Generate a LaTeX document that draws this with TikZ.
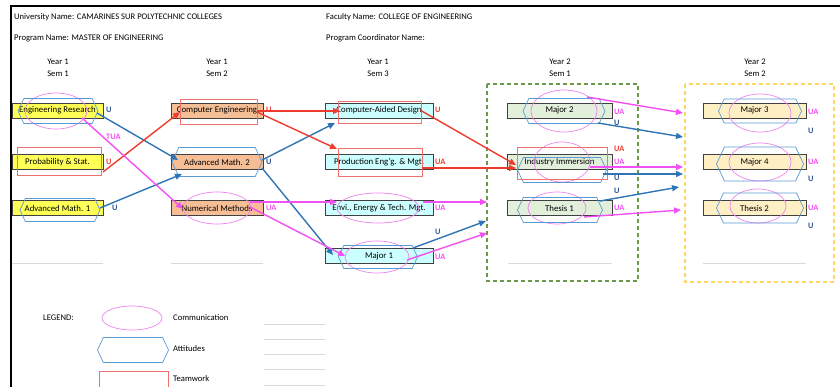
\documentclass[tikz,border=0pt]{standalone}
\usepackage{fontspec}
\setmainfont{Carlito}
\usetikzlibrary{arrows.meta,shapes.symbols}

\definecolor{yelbox}{HTML}{FFFF55}
\definecolor{orabox}{HTML}{F6BE95}
\definecolor{cyabox}{HTML}{CCFFFF}
\definecolor{grebox}{HTML}{E2EFDA}
\definecolor{peabox}{HTML}{FFEFC5}
\definecolor{commcol}{HTML}{EE82EE}
\definecolor{attcol}{HTML}{5B9BD5}
\definecolor{teamcol}{HTML}{F07070}
\definecolor{arrred}{HTML}{EE3B2E}
\definecolor{arrblue}{HTML}{2E75B6}
\definecolor{arrpink}{HTML}{F350F3}
\definecolor{navy}{HTML}{2F5597}
\definecolor{frmgreen}{HTML}{6A9A47}
\definecolor{frmyellow}{HTML}{FFD660}

\begin{document}
\begin{tikzpicture}[x=1pt,y=-1pt,
    font=\fontsize{8.6}{10}\selectfont,
    course/.style={draw=black!75, line width=0.8pt, minimum height=15pt, inner sep=0pt, font=\fontsize{8.8}{10}\selectfont},
    comm/.style={draw=commcol, line width=0.7pt},
    hexa/.style={draw=attcol, line width=0.7pt, shape=signal, signal to=west and east, signal pointer angle=130, inner sep=0pt},
    team/.style={draw=teamcol, line width=0.7pt},
    lab/.style={anchor=west, inner sep=0pt, font=\fontsize{8.3}{9}\bfseries},
    txt/.style={anchor=west, inner sep=0pt},
    blu/.style={arrblue, line width=1.4pt, -{Triangle[length=7pt,width=6pt]}},
    rd/.style={arrred, line width=1.4pt, -{Triangle[length=7pt,width=6pt]}},
    pnk/.style={arrpink, line width=1.4pt, -{Triangle[length=7pt,width=6pt]}},
    rule/.style={black!15, line width=0.8pt}]
        \useasboundingbox (0,0) rectangle (840,387);
        \draw[line width=2pt] (11,387) -- (11,6) -- (840,6);

        % header
        \node[txt] (uni) at (14,17) {University Name: CAMARINES SUR POLYTECHNIC COLLEGES};
        \node[txt] (prog) at (14,38) {Program Name: MASTER OF ENGINEERING};
        \node[txt] (fac) at (326,17) {Faculty Name: COLLEGE OF ENGINEERING};
        \node[txt] (coord) at (326,38) {Program Coordinator Name:};

        \node (y11) at (58,62) {Year 1};   \node (s11) at (58,74) {Sem 1};
        \node (y12) at (217,62) {Year 1};  \node (s12) at (217,74) {Sem 2};
        \node (y13) at (378,62) {Year 1};  \node (s13) at (378,74) {Sem 3};
        \node (y21) at (560,62) {Year 2};  \node (s21) at (560,74) {Sem 1};
        \node (y22) at (755,62) {Year 2};  \node (s22) at (755,74) {Sem 2};

        % year 2 frames
        \draw[frmgreen, line width=1.3pt, dash pattern=on 4pt off 3pt] (487,84) rectangle (638,281);
        \draw[frmyellow, line width=1.3pt, dash pattern=on 4pt off 3pt] (685,84) rectangle (834,282);

        % empty rows
        \draw[rule] (12,263) -- (103,263);
        \draw[rule] (171,263) -- (263,263);
        \draw[rule] (508,263) -- (612,263);
        \draw[rule] (703,263) -- (806,263);

        % courses
        \node[course, fill=yelbox, minimum width=91pt] (er) at (57.5,110.5) {Engineering Research};
        \node[course, fill=yelbox, minimum width=91pt] (ps) at (57.5,162) {Probability \& Stat.};
        \node[course, fill=yelbox, minimum width=91pt] (am1) at (57.5,208) {Advanced Math. 1};

        \node[course, fill=orabox, minimum width=92pt] (ce) at (217,110.5) {Computer Engineering};
        \node[course, fill=orabox, minimum width=92pt] (am2) at (217,162) {Advanced Math. 2};
        \node[course, fill=orabox, minimum width=92pt] (nm) at (217,208) {Numerical Methods};

        \node[course, fill=cyabox, minimum width=108pt] (cad) at (379,110.5) {Computer-Aided Design};
        \node[course, fill=cyabox, minimum width=108pt] (pem) at (379,162) {Production Eng'g. \& Mgt.};
        \node[course, fill=cyabox, minimum width=108pt] (eet) at (379,208) {Envi., Energy \& Tech. Mgt.};
        \node[course, fill=cyabox, minimum width=108pt] (mj1) at (379,256) {Major 1};

        \node[course, fill=grebox, minimum width=105pt] (mj2) at (559.5,110.5) {Major 2};
        \node[course, fill=grebox, minimum width=105pt] (ii) at (559.5,162) {Industry Immersion};
        \node[course, fill=grebox, minimum width=105pt] (th1) at (559.5,208) {Thesis 1};

        \node[course, fill=peabox, minimum width=103pt] (mj3) at (754.5,110.5) {Major 3};
        \node[course, fill=peabox, minimum width=103pt] (mj4) at (754.5,162) {Major 4};
        \node[course, fill=peabox, minimum width=103pt] (th2) at (754.5,208) {Thesis 2};

        % communication
        \draw[comm] (56,111) ellipse (31 and 18);
        \draw[comm] (217,208) ellipse (34 and 16);
        \draw[comm] (378,208) ellipse (41 and 15);
        \draw[comm] (377,257) ellipse (32 and 16);
        \draw[comm] (564,111) ellipse (33 and 21);
        \draw[comm] (562,162) ellipse (28 and 20);
        \draw[comm] (557,208) ellipse (29 and 16);
        \draw[comm] (760,113) ellipse (31 and 19);
        \draw[comm] (760,162) ellipse (31 and 19);
        \draw[comm] (758,206) ellipse (28 and 17);

        % attitudes
        \node[hexa, minimum width=80pt, minimum height=25pt] (er-h) at (58,111) {};
        \node[hexa, minimum width=80pt, minimum height=23pt] (am1-h) at (60,210) {};
        \node[hexa, minimum width=90pt, minimum height=29pt] (am2-h) at (217,162) {};
        \node[hexa, minimum width=79pt, minimum height=23pt] (mj1-h) at (378,257) {};
        \node[hexa, minimum width=82pt, minimum height=25pt] (mj2-h) at (564,111) {};
        \node[hexa, minimum width=89pt, minimum height=25pt] (ii-h) at (562,170) {};
        \node[hexa, minimum width=85pt, minimum height=25pt] (th1-h) at (560,210) {};
        \node[hexa, minimum width=83pt, minimum height=24pt] (mj3-h) at (760,111) {};
        \node[hexa, minimum width=87pt, minimum height=34pt] (mj4-h) at (760,164) {};
        \node[hexa, minimum width=87pt, minimum height=30pt] (th2-h) at (760,208) {};

        % teamwork
        \draw[team] (17,147) rectangle (101,175);
        \draw[team] (180,99) rectangle (257,124);
        \draw[team] (338,101) rectangle (421,123);
        \draw[team] (338,148) rectangle (422,176);
        \draw[team] (517,147) rectangle (607,179);

        % arrow ends
        \coordinate (b1a) at (97,113);   \coordinate (b1b) at (178,160);
        \coordinate (b2a) at (100,208);  \coordinate (b2b) at (182,174);
        \coordinate (b3a) at (262,160);  \coordinate (b3b) at (335,123);
        \coordinate (b4a) at (262,168);  \coordinate (b4b) at (333,255);
        \coordinate (b5a) at (413,248);  \coordinate (b5b) at (486,221);
        \coordinate (b6a) at (598,123);  \coordinate (b6b) at (683,137);
        \coordinate (b7a) at (603,174);  \coordinate (b7b) at (683,174);
        \coordinate (b8a) at (600,201);  \coordinate (b8b) at (679,187);
        \coordinate (r1a) at (103,172);  \coordinate (r1b) at (180,112);
        \coordinate (r2a) at (257,111);  \coordinate (r2b) at (340,111);
        \coordinate (r3a) at (257,112);  \coordinate (r3b) at (337,149);
        \coordinate (r4a) at (420,110);  \coordinate (r4b) at (516,165);
        \coordinate (r5a) at (422,168);  \coordinate (r5b) at (516,168);
        \coordinate (p1a) at (82,118);   \coordinate (p1b) at (183,209);
        \coordinate (p2a) at (250,202);  \coordinate (p2b) at (337,202);
        \coordinate (p3a) at (250,207);  \coordinate (p3b) at (345,256);
        \coordinate (p4a) at (423,202);  \coordinate (p4b) at (487,202);
        \coordinate (p5a) at (407,260);  \coordinate (p5b) at (487,233);
        \coordinate (p6a) at (587,97);   \coordinate (p6b) at (683,113);
        \coordinate (p7a) at (590,167);  \coordinate (p7b) at (683,167);
        \coordinate (p8a) at (584,217);  \coordinate (p8b) at (681,210);

        \draw[blu] (b1a) -- (b1b);
        \draw[blu] (b2a) -- (b2b);
        \draw[blu] (b3a) -- (b3b);
        \draw[blu] (b4a) -- (b4b);
        \draw[blu] (b5a) -- (b5b);
        \draw[blu] (b6a) -- (b6b);
        \draw[blu] (b7a) -- (b7b);
        \draw[blu] (b8a) -- (b8b);
        \draw[rd] (r1a) -- (r1b);
        \draw[rd] (r2a) -- (r2b);
        \draw[rd] (r3a) -- (r3b);
        \draw[rd] (r4a) -- (r4b);
        \draw[rd] (r5a) -- (r5b);
        \draw[pnk] (p1a) -- (p1b);
        \draw[pnk] (p2a) -- (p2b);
        \draw[pnk] (p3a) -- (p3b);
        \draw[pnk] (p4a) -- (p4b);
        \draw[pnk] (p5a) -- (p5b);
        \draw[pnk] (p6a) -- (p6b);
        \draw[pnk] (p7a) -- (p7b);
        \draw[pnk] (p8a) -- (p8b);

        % outcome labels
        \node[lab, text=navy] (er-u) at (106,110) {U};
        \node[lab, text=arrred] (ps-u) at (106,162) {U};
        \node[lab, text=navy] (am1-u) at (112,208) {U};
        \node[lab, text=arrpink] (er-tua) at (106,137) {TUA};
        \node[lab, text=arrred] (ce-u) at (266,110) {U};
        \node[lab, text=navy] (am2-u) at (266,162) {U};
        \node[lab, text=arrpink] (nm-ua) at (266,208) {UA};
        \node[lab, text=arrred] (cad-u) at (435,110) {U};
        \node[lab, text=arrred] (pem-ua) at (435,162) {UA};
        \node[lab, text=arrpink] (eet-ua) at (435,208) {UA};
        \node[lab, text=navy] (mj1-u) at (435,232) {U};
        \node[lab, text=arrpink] (mj1-ua) at (435,257) {UA};
        \node[lab, text=arrpink] (mj2-ua) at (614,112) {UA};
        \node[lab, text=navy] (mj2-u) at (614,123) {U};
        \node[lab, text=arrred] (ii-ua1) at (614,149) {UA};
        \node[lab, text=arrpink] (ii-ua2) at (614,162) {UA};
        \node[lab, text=navy] (ii-u1) at (614,178) {U};
        \node[lab, text=navy] (ii-u2) at (614,191) {U};
        \node[lab, text=arrpink] (th1-ua) at (614,208) {UA};
        \node[lab, text=arrpink] (mj3-ua) at (808,112) {UA};
        \node[lab, text=navy] (mj3-u) at (808,131) {U};
        \node[lab, text=arrpink] (mj4-ua) at (808,162) {UA};
        \node[lab, text=navy] (mj4-u) at (808,179) {U};
        \node[lab, text=arrpink] (th2-ua) at (808,208) {UA};
        \node[lab, text=navy] (th2-u) at (808,226) {U};

        % legend
        \node[txt] (leg) at (43,318) {LEGEND:};
        \draw[comm] (132,318) ellipse (30 and 12);
        \node[txt] (leg-c) at (173,318) {Communication};
        \node[hexa, minimum width=71pt, minimum height=25pt] (leg-h) at (133,350) {};
        \node[txt] (leg-a) at (173,349) {Attitudes};
        \draw[team] (99,371) rectangle (168,392);
        \node[txt] (leg-t) at (173,379) {Teamwork};
        \foreach \yy in {324,339,354,369,385}
            \draw[rule] (264,\yy) -- (325,\yy);
\end{tikzpicture}
\end{document}
